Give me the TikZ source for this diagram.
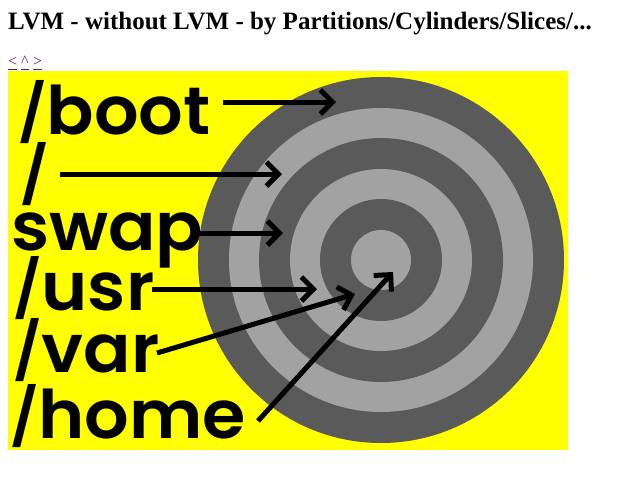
\documentclass[tikz,border=0pt]{standalone}
\usepackage{fontspec}
\setmainfont{Liberation Serif}
\newfontfamily\geo{Poppins}[UprightFont={* SemiBold}]
\usetikzlibrary{arrows.meta}
\definecolor{ylw}{HTML}{FFFF00}
\definecolor{dgray}{HTML}{5A5A5A}
\definecolor{lgray}{HTML}{A2A2A2}
\definecolor{visited}{HTML}{551A8B}
\newcommand{\slsh}{{\fontsize{56}{56}\selectfont\raisebox{1pt}{/}}}
\newcommand{\wide}[1]{\scalebox{1.045}[1]{#1}}
\tikzset{
  lbl/.style={anchor=base west, inner sep=0pt, text height=50pt, text depth=8pt, font=\geo\fontsize{67}{67}\selectfont},
  link/.style={anchor=base west, inner sep=0pt, text=visited, font=\fontsize{16}{16}\selectfont},
  ptr/.style={line width=5pt, -{Straight Barb[length=12pt,width=24pt]}},
}
\begin{document}
\begin{tikzpicture}[x=1pt,y=-1pt]
\useasboundingbox[fill=white] (0,0) rectangle (640,480);
\node[anchor=base west, inner sep=0pt, font=\bfseries\fontsize{25}{25}\selectfont] (title) at (8,29) {LVM - without LVM - by Partitions/Cylinders/Slices/...};
\node[link] (prev) at (8,66) {<};
\node[link] (up) at (21,66) {\^{}};
\node[link] (next) at (33,66) {>};
\foreach \n in {prev,up,next} \draw[visited, line width=1pt] (\n.west |- 0,69) -- (\n.east |- 0,69);
\fill[ylw] (8,71) rectangle (568,450);
\foreach \r/\c in {183/dgray,152/lgray,122/dgray,91/lgray,61/dgray,30/lgray}
  \fill[\c] (381,260) circle (\r);
\node[lbl] (boot) at (18,134) {\wide{\slsh boot}};
\node[lbl] (root) at (20,196) {\wide{\slsh}};
\node[lbl] (swap) at (11,250) {\wide{swap}};
\node[lbl] (usr) at (13,310) {\wide{\slsh usr}};
\node[lbl] (var) at (13,372) {\wide{\slsh var}};
\node[lbl] (home) at (10,438) {\wide{\slsh home}};
\coordinate (bootS) at (223,102); \coordinate (bootT) at (336,102);
\coordinate (rootS) at (60,174);  \coordinate (rootT) at (282,174);
\coordinate (swapS) at (197,233); \coordinate (swapT) at (283,233);
\coordinate (usrS) at (152,289);  \coordinate (usrT) at (317,289);
\coordinate (varS) at (157,353);  \coordinate (varT) at (355,294);
\coordinate (homeS) at (258,421); \coordinate (homeT) at (393,272);
\foreach \a in {boot,root,swap,usr,var,home}
  \draw[ptr] (\a S) -- (\a T);
\end{tikzpicture}
\end{document}
